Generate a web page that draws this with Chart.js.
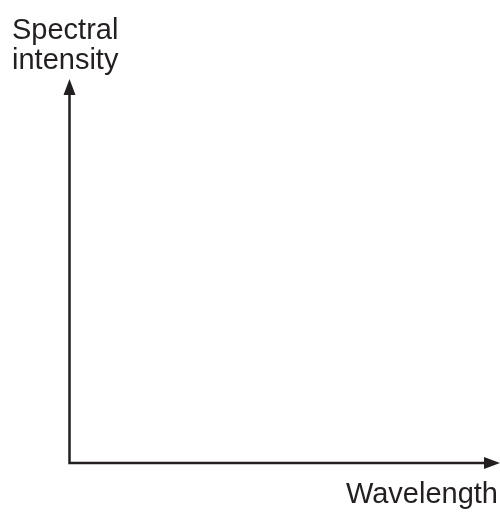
<!DOCTYPE html>
<html>
<head>
<meta charset="utf-8">
<script src="https://cdn.jsdelivr.net/npm/chart.js@4"></script>
<style>
  html, body { margin: 0; padding: 0; background: #fff; }
  #wrap { width: 500px; height: 513px; }
</style>
</head>
<body>
<div id="wrap"><canvas id="spectrum"></canvas></div>
<script>
const $ = document;

// the sketch has no curve, only the two axes
const wavelength = [];
const intensity = [];
const xRange = [0, 1];
const yRange = [0, 1];
const xTitle = ["Wavelength"];
const yTitle = ["Spectral", "intensity"];

const ink = "#231f20";

function arrowHead(ctx, tipX, tipY, dir) {
  const len = 16, half = 6;
  ctx.beginPath();
  if (dir === "right") {
    ctx.moveTo(tipX, tipY);
    ctx.lineTo(tipX - len, tipY - half);
    ctx.lineTo(tipX - len, tipY + half);
  } else {
    ctx.moveTo(tipX, tipY);
    ctx.lineTo(tipX - half, tipY + len);
    ctx.lineTo(tipX + half, tipY + len);
  }
  ctx.closePath();
  ctx.fill();
}

const axesPlugin = {
  id: "arrowAxes",
  afterDraw(chart) {
    const ctx = chart.ctx;
    const xs = chart.scales.x;
    const ys = chart.scales.y;
    const x0 = xs.getPixelForValue(xRange[0]);
    const x1 = xs.getPixelForValue(xRange[1]);
    const y0 = ys.getPixelForValue(yRange[0]);
    const y1 = ys.getPixelForValue(yRange[1]);

    ctx.save();
    ctx.strokeStyle = ink;
    ctx.fillStyle = ink;
    ctx.lineWidth = 2.5;
    ctx.lineCap = "square";
    ctx.beginPath();
    ctx.moveTo(x0, y1 + 12);
    ctx.lineTo(x0, y0);
    ctx.lineTo(x1 - 12, y0);
    ctx.stroke();
    arrowHead(ctx, x1, y0, "right");
    arrowHead(ctx, x0, y1, "up");

    ctx.font = "29px 'Liberation Sans', Arial, sans-serif";
    ctx.textBaseline = "alphabetic";
    ctx.textAlign = "left";
    ctx.fillText(yTitle[0], 12, 39);
    ctx.fillText(yTitle[1], 12, 69);
    ctx.textAlign = "right";
    ctx.fillText(xTitle[0], 498, 503);
    ctx.restore();
  }
};

new Chart($.getElementById("spectrum"), {
  type: "scatter",
  data: {
    datasets: [{
      data: wavelength.map((w, i) => ({ x: w, y: intensity[i] })),
      showLine: true,
      borderColor: ink,
    }],
  },
  options: {
    responsive: true,
    maintainAspectRatio: false,
    animation: false,
    layout: { padding: { left: 69.5, right: 0, top: 79, bottom: 50 } },
    plugins: { legend: { display: false }, tooltip: { enabled: false } },
    scales: {
      x: { type: "linear", min: xRange[0], max: xRange[1], display: false },
      y: { type: "linear", min: yRange[0], max: yRange[1], display: false },
    },
  },
  plugins: [axesPlugin],
});
</script>
</body>
</html>
